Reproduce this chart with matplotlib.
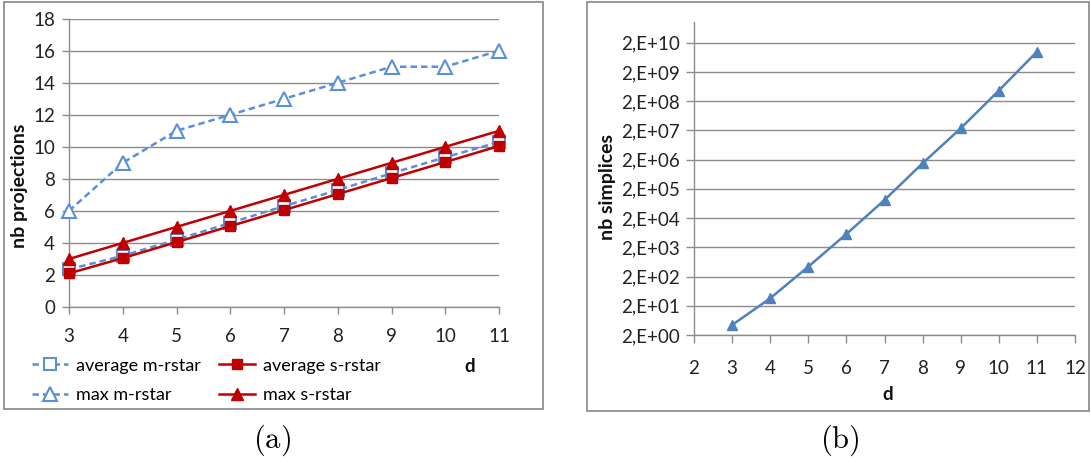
import matplotlib
matplotlib.use("Agg")
import matplotlib.pyplot as plt
from matplotlib.patches import Rectangle
from matplotlib.ticker import FixedLocator, NullLocator

# ---------------- data ----------------
d = [3, 4, 5, 6, 7, 8, 9, 10, 11]
avg_m_rstar = [2.35, 3.2, 4.2, 5.25, 6.3, 7.3, 8.35, 9.35, 10.3]
avg_s_rstar = [2.1, 3.05, 4.05, 5.05, 6.05, 7.05, 8.05, 9.05, 10.05]
max_m_rstar = [6, 9, 11, 12, 13, 14, 15, 15, 16]
max_s_rstar = [3, 4, 5, 6, 7, 8, 9, 10, 11]
labels_a = ["average m-rstar", "average s-rstar", "max m-rstar", "max s-rstar"]

d_b = [3, 4, 5, 6, 7, 8, 9, 10, 11]
nb_simplices = [4.4, 36, 435, 5700, 8.3e4, 1.5e6, 2.35e7, 4.6e8, 9.8e9]
b_yticks = [2 * 10 ** k for k in range(11)]
b_yticklabels = ["2,E+%02d" % k for k in range(11)]
b_xticks = [2, 3, 4, 5, 6, 7, 8, 9, 10, 11, 12]

# ---------------- style ----------------
plt.rcParams['font.family'] = ['Lato', 'DejaVu Sans']
plt.rcParams['mathtext.fontset'] = 'cm'
GRID = '#8c8c8c'
BLUE = '#5B8FD6'
BLUE_B = '#4F81BD'
RED = '#C00000'
FS = 13.5
W, H = 1091, 466
fig = plt.figure(figsize=(W / 100, H / 100), dpi=100)

def fx(px):
    return px / W

def fy(py):
    return 1 - py / H

# chart frames
fig.patches.append(Rectangle((fx(4), fy(409)), fx(543) - fx(4), fy(2) - fy(409),
                             transform=fig.transFigure, fill=False, edgecolor='#868686', lw=1.2))
fig.patches.append(Rectangle((fx(587), fy(411)), fx(1089) - fx(587), fy(2) - fy(411),
                             transform=fig.transFigure, fill=False, edgecolor='#868686', lw=1.2))

# ---------------- chart (a) ----------------
axa = fig.add_axes([fx(69), fy(307), fx(499) - fx(69), fy(18.7) - fy(307)])
axa.set_xlim(3, 11)
axa.set_ylim(0, 18)
axa.set_yticks(range(0, 19, 2))
axa.set_xticks(d)
axa.grid(axis='y', color=GRID, lw=1)
axa.set_axisbelow(True)
for s in ['top', 'right']:
    axa.spines[s].set_visible(False)
for s in ['left', 'bottom']:
    axa.spines[s].set_color(GRID)
    axa.spines[s].set_linewidth(1)
axa.tick_params(axis='both', colors=GRID, labelcolor='#222222', labelsize=FS, length=5, width=1)
axa.tick_params(axis='x', pad=10)
axa.tick_params(axis='y', pad=5)

dash = (0, (2.6, 1.6))
l1, = axa.plot(d, avg_m_rstar, color=BLUE, lw=1.8, ls=dash, marker='s', ms=9,
               mfc='white', mec=BLUE, mew=1.5, clip_on=False, zorder=3)
l3, = axa.plot(d, max_m_rstar, color=BLUE, lw=1.8, ls=dash, marker='^', ms=10,
               mfc='white', mec=BLUE, mew=1.5, clip_on=False, zorder=3)
l2, = axa.plot(d, avg_s_rstar, color=RED, lw=1.8, marker='s', ms=7,
               mfc=RED, mec=RED, clip_on=False, zorder=4)
l4, = axa.plot(d, max_s_rstar, color=RED, lw=1.8, marker='^', ms=8,
               mfc=RED, mec=RED, clip_on=False, zorder=4)

leg = axa.legend([l1, l3, l2, l4], [labels_a[0], labels_a[2], labels_a[1], labels_a[3]],
                 ncol=2, frameon=False, fontsize=13, handlelength=2.0,
                 columnspacing=1.0, handletextpad=0.45, labelspacing=0.75,
                 borderpad=0, borderaxespad=0,
                 loc='center left', bbox_to_anchor=(fx(32), fy(380.5)),
                 bbox_transform=fig.transFigure)

fig.text(fx(20), fy(186), 'nb projections', rotation=90, ha='center', va='center',
         fontsize=14, fontweight='bold', color='#111111')
fig.text(fx(470), fy(366), 'd', ha='center', va='center', fontsize=FS,
         fontweight='bold', color='#111111')

# ---------------- chart (b) ----------------
axb = fig.add_axes([fx(694), fy(335), fx(1075) - fx(694), fy(22) - fy(335)])
axb.set_yscale('log')
axb.set_xlim(2, 12)
axb.set_ylim(2, 2e10 * 10 ** 0.708)
axb.yaxis.set_major_locator(FixedLocator(b_yticks))
axb.yaxis.set_minor_locator(NullLocator())
axb.set_yticklabels(b_yticklabels)
axb.set_xticks(b_xticks)
axb.grid(axis='y', color=GRID, lw=1)
axb.set_axisbelow(True)
for s in ['top', 'right']:
    axb.spines[s].set_visible(False)
for s in ['left', 'bottom']:
    axb.spines[s].set_color(GRID)
    axb.spines[s].set_linewidth(1)
axb.tick_params(axis='both', colors=GRID, labelcolor='#222222', labelsize=FS, length=6, width=1)
axb.tick_params(axis='x', pad=12)
axb.tick_params(axis='y', pad=4)
axb.plot(d_b, nb_simplices, color=BLUE_B, lw=1.8, marker='^', ms=7.5,
         mfc=BLUE_B, mec=BLUE_B, clip_on=False, zorder=3)

fig.text(fx(608), fy(187), 'nb simplices', rotation=90, ha='center', va='center',
         fontsize=14, fontweight='bold', color='#111111')
fig.text(fx(888), fy(394), 'd', ha='center', va='center', fontsize=FS,
         fontweight='bold', color='#111111')

# captions
fig.text(fx(272), fy(440), r'$\mathrm{(a)}$', ha='center', va='center', fontsize=22)
fig.text(fx(840), fy(440), r'$\mathrm{(b)}$', ha='center', va='center', fontsize=22)

fig.savefig('out.png', dpi=100)
